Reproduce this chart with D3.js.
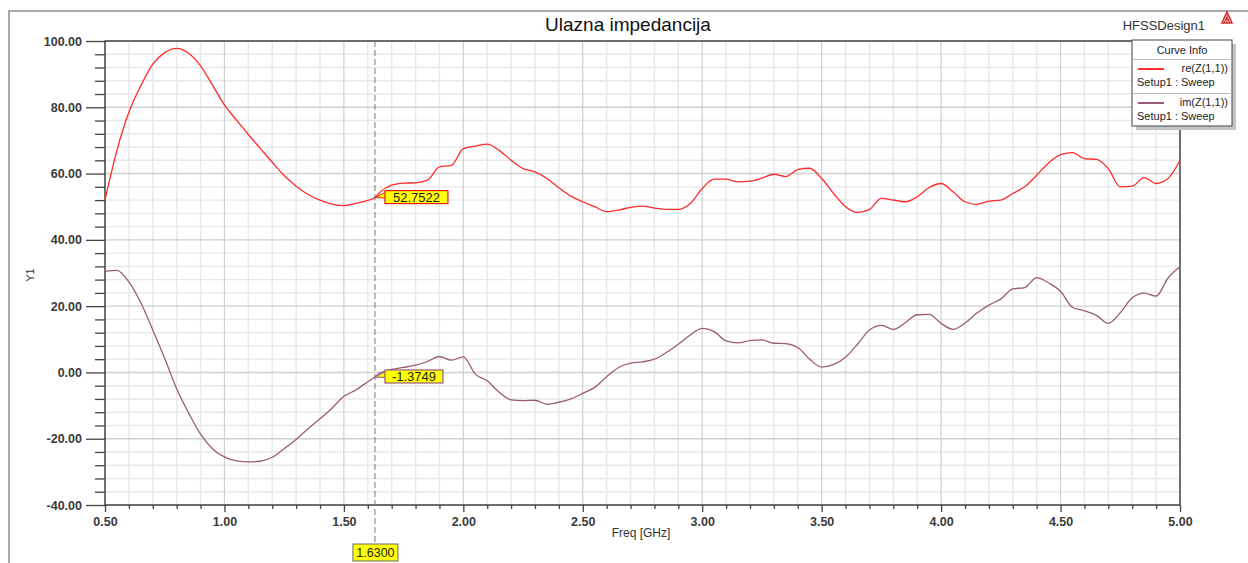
<!DOCTYPE html>
<html>
<head>
<meta charset="utf-8">
<script src="https://cdn.jsdelivr.net/npm/d3@7"></script>
<style>
  html, body { margin: 0; padding: 0; background: #ffffff; }
  svg { display: block; font-family: "Liberation Sans", Arial, sans-serif; }
</style>
</head>
<body>
<svg id="chart" width="1248" height="563"></svg>
<script>
// Sweep frequencies [GHz]
const freq = [0.50,0.55,0.60,0.65,0.70,0.75,0.80,0.85,0.90,0.95,1.00,1.05,1.10,1.15,1.20,1.25,1.30,1.35,1.40,1.45,1.50,1.55,1.60,1.63,1.65,1.70,1.75,1.80,1.85,1.90,1.95,2.00,2.05,2.10,2.15,2.20,2.25,2.30,2.35,2.40,2.45,2.50,2.55,2.60,2.65,2.70,2.75,2.80,2.85,2.90,2.95,3.00,3.05,3.10,3.15,3.20,3.25,3.30,3.35,3.40,3.45,3.50,3.55,3.60,3.65,3.70,3.75,3.80,3.85,3.90,3.95,4.00,4.05,4.10,4.15,4.20,4.25,4.30,4.35,4.40,4.45,4.50,4.55,4.60,4.65,4.70,4.75,4.80,4.85,4.90,4.95,5.00];

// re(Z(1,1)) [Ohm]
const reZ = [52,67,78.5,86.5,93,96.5,97.8,96.3,92.5,86.7,80.7,76.2,71.8,67.6,63.4,59.4,56.2,53.7,52,50.8,50.3,51,51.9,52.7522,54.3,56.5,57.1,57.2,58,62,62.5,67.5,68.3,68.9,67,64,61.5,60.5,58.5,55.7,53.2,51.5,50,48.5,49,49.8,50.2,49.6,49.2,49.2,51,55.5,58.3,58.3,57.5,57.7,58.6,59.8,59.1,61.2,61.6,58.5,54,50,48.3,49.2,52.5,52,51.5,53,55.8,57,54.5,51.5,50.7,51.7,52,54,56,59.5,63.2,65.7,66.3,64.5,64.3,61.5,56,56.2,58.8,57,58.5,64];

// im(Z(1,1)) [Ohm]
const imZ = [30.5,30.8,27.3,21,12.8,4.2,-4.9,-12.2,-18.6,-23,-25.5,-26.7,-27,-26.8,-25.6,-23,-20.2,-17,-14,-10.8,-7.2,-5.3,-2.8,-1.3749,-0.2,0.9,1.5,2.2,3.3,4.8,3.7,4.7,-0.5,-2.5,-6,-8.3,-8.5,-8.4,-9.6,-9,-8,-6.3,-4.5,-1.3,1.5,2.8,3.2,4,6,8.5,11.3,13.3,12.3,9.5,8.9,9.6,9.8,8.8,8.7,7.5,4,1.6,2.4,4.6,8.5,12.8,14.2,13,15,17.4,17.5,14.8,13,14.9,17.9,20.3,22.2,25.2,25.6,28.6,27,24.5,19.6,18.6,17.2,14.8,18,22.5,23.9,23,28.5,32];

// Axis ticks
const xMajor = [0.5,1.0,1.5,2.0,2.5,3.0,3.5,4.0,4.5,5.0];
const xMinor = [0.6,0.7,0.8,0.9,1.1,1.2,1.3,1.4,1.6,1.7,1.8,1.9,2.1,2.2,2.3,2.4,2.6,2.7,2.8,2.9,3.1,3.2,3.3,3.4,3.6,3.7,3.8,3.9,4.1,4.2,4.3,4.4,4.6,4.7,4.8,4.9];
const yMajor = [-40,-20,0,20,40,60,80,100];
const yMinor = [-36,-32,-28,-24,-16,-12,-8,-4,4,8,12,16,24,28,32,36,44,48,52,56,64,68,72,76,84,88,92,96];

// Marker
const markerFreq = 1.63;
const markerRe = 52.7522;
const markerIm = -1.3749;

const colors = { re: "#ff2a2a", im: "#9a5a7c" };

// Fixed-decimal labels with a plain hyphen for negatives
const fmt = n => (v => d3.format("." + n + "f")(v).replace("\u2212", "-"));

const svg = d3.select("#chart");
const L = 105, R = 1180, T = 41, B = 505;

const x = d3.scaleLinear().domain([0.5, 5]).range([L, R]);
const y = d3.scaleLinear().domain([-40, 100]).range([B, T]);

// Outer frame (continues past the window's right and bottom edges)
svg.append("rect").attr("x", 9).attr("y", 11).attr("width", 1260).attr("height", 570)
  .attr("fill", "#fff").attr("stroke", "#a8a8a8").attr("stroke-width", 2);

// Title
svg.append("text").attr("x", 628).attr("y", 31).attr("text-anchor", "middle")
  .attr("font-size", 19).attr("fill", "#111").text("Ulazna impedancija");
svg.append("text").attr("x", 1205).attr("y", 30).attr("text-anchor", "end")
  .attr("font-size", 13).attr("fill", "#333").text("HFSSDesign1");
// small logo
const logo = svg.append("g").attr("transform", "translate(1227,18)");
logo.append("path").attr("d", "M0,-6 L5,5 L-5,5 Z").attr("fill", "none").attr("stroke", "#d03030").attr("stroke-width", 1.6);
logo.append("path").attr("d", "M0,-3 L0,5 M-3,5 L0,-1 L3,5").attr("stroke", "#d03030").attr("stroke-width", 1.2).attr("fill", "none");

// Grid: minor then major
const grid = svg.append("g");
grid.selectAll(".gxm").data(xMinor).join("line")
  .attr("x1", d => x(d)).attr("x2", d => x(d)).attr("y1", T).attr("y2", B)
  .attr("stroke", "#e8e8e8").attr("stroke-width", 1.4);
grid.selectAll(".gym").data(yMinor).join("line")
  .attr("x1", L).attr("x2", R).attr("y1", d => y(d)).attr("y2", d => y(d))
  .attr("stroke", "#e8e8e8").attr("stroke-width", 1.4);
grid.selectAll(".gxM").data(xMajor).join("line")
  .attr("x1", d => x(d)).attr("x2", d => x(d)).attr("y1", T).attr("y2", B)
  .attr("stroke", "#cfcfcf").attr("stroke-width", 1.2);
grid.selectAll(".gyM").data(yMajor).join("line")
  .attr("x1", L).attr("x2", R).attr("y1", d => y(d)).attr("y2", d => y(d))
  .attr("stroke", "#cfcfcf").attr("stroke-width", 1.4);

// Axes
const axisColor = "#444";
const yAxisMaj = svg.append("g").attr("transform", `translate(${L},0)`)
  .call(d3.axisLeft(y).tickValues(yMajor).tickSize(19).tickPadding(4).tickFormat(fmt(2)));
const yAxisMin = svg.append("g").attr("transform", `translate(${L},0)`)
  .call(d3.axisLeft(y).tickValues(yMinor).tickSize(10).tickFormat(""));
const xAxisMaj = svg.append("g").attr("transform", `translate(0,${B})`)
  .call(d3.axisBottom(x).tickValues(xMajor).tickSize(7).tickPadding(5).tickFormat(fmt(2)));
const xAxisMin = svg.append("g").attr("transform", `translate(0,${B})`)
  .call(d3.axisBottom(x).tickValues(xMinor).tickSize(4).tickFormat(""));
[yAxisMaj, yAxisMin, xAxisMaj, xAxisMin].forEach(g => {
  g.select(".domain").remove();
  g.selectAll(".tick line").attr("stroke", axisColor).attr("stroke-width", 1.3);
  g.selectAll(".tick text").attr("fill", "#3a3a3a").attr("font-size", 12.5)
    .attr("font-weight", "bold").attr("font-family", "Liberation Sans, Arial, sans-serif");
});

// Plot border
svg.append("rect").attr("x", L).attr("y", T).attr("width", R - L).attr("height", B - T)
  .attr("fill", "none").attr("stroke", "#333").attr("stroke-width", 1.3);

// Axis titles
svg.append("text").attr("transform", `translate(34,${(T + B) / 2 + 2}) rotate(-90)`)
  .attr("text-anchor", "middle").attr("font-size", 11).attr("fill", "#333").text("Y1");
svg.append("text").attr("x", 641).attr("y", 537).attr("text-anchor", "middle")
  .attr("font-size", 12).attr("fill", "#333").text("Freq [GHz]");

// Curves
const line = (vals) => d3.line()
  .x((d, i) => x(freq[i])).y(d => y(d))
  .curve(d3.curveMonotoneX)(vals);
svg.append("path").attr("d", line(reZ)).attr("fill", "none")
  .attr("stroke", colors.re).attr("stroke-width", 1.3);
svg.append("path").attr("d", line(imZ)).attr("fill", "none")
  .attr("stroke", colors.im).attr("stroke-width", 1.3);

// Marker line
const mx = x(markerFreq);
svg.append("line").attr("x1", mx).attr("x2", mx).attr("y1", T).attr("y2", 544)
  .attr("stroke", "#777").attr("stroke-width", 1).attr("stroke-dasharray", "6,3");

// Marker callouts
function callout(val, stroke, w) {
  const px = mx, py = y(val);
  const bx = px + 10, by = py - 7, bh = 13;
  const g = svg.append("g");
  g.append("path")
    .attr("d", `M${px},${py} L${bx + 1},${by + 1.5} L${bx + 1},${by + 7.5} Z`)
    .attr("fill", "#ffff00").attr("stroke", stroke).attr("stroke-width", 1);
  g.append("rect").attr("x", bx).attr("y", by).attr("width", w).attr("height", bh)
    .attr("fill", "#ffff00").attr("stroke", stroke).attr("stroke-width", 1.2);
  g.append("text").attr("x", bx + w / 2).attr("y", by + bh - 2)
    .attr("text-anchor", "middle").attr("font-size", 13).attr("fill", "#222")
    .text(fmt(4)(val));
}
callout(markerRe, "#e02020", 63);
callout(markerIm, "#9a5a7c", 58);

// Bottom marker label
const fbW = 45;
svg.append("rect").attr("x", mx - 22).attr("y", 544).attr("width", fbW).attr("height", 17)
  .attr("fill", "#ffff00").attr("stroke", "#666").attr("stroke-width", 1);
svg.append("text").attr("x", mx + 0.5).attr("y", 557).attr("text-anchor", "middle")
  .attr("font-size", 12.5).attr("fill", "#222").text(fmt(4)(markerFreq));

// Legend
const lg = svg.append("g").attr("transform", "translate(1132,40)");
lg.append("rect").attr("x", 4).attr("y", 4).attr("width", 100).attr("height", 86).attr("fill", "#c4c4c4");
lg.append("rect").attr("x", 0).attr("y", 0).attr("width", 100).attr("height", 86)
  .attr("fill", "#fff").attr("stroke", "#444").attr("stroke-width", 1);
lg.append("text").attr("x", 50).attr("y", 14).attr("text-anchor", "middle")
  .attr("font-size", 11).attr("fill", "#222").text("Curve Info");
lg.append("line").attr("x1", 0).attr("x2", 100).attr("y1", 19.5).attr("y2", 19.5).attr("stroke", "#bbb");
lg.append("line").attr("x1", 0).attr("x2", 100).attr("y1", 53.5).attr("y2", 53.5).attr("stroke", "#bbb");
const entries = [
  { name: "re(Z(1,1))", color: colors.re, y0: 20 },
  { name: "im(Z(1,1))", color: colors.im, y0: 54 }
];
entries.forEach(e => {
  lg.append("line").attr("x1", 6).attr("x2", 32).attr("y1", e.y0 + 9).attr("y2", e.y0 + 9)
    .attr("stroke", e.color).attr("stroke-width", 2);
  lg.append("text").attr("x", 96).attr("y", e.y0 + 12).attr("text-anchor", "end")
    .attr("font-size", 11).attr("fill", "#222").text(e.name);
  lg.append("text").attr("x", 5).attr("y", e.y0 + 26)
    .attr("font-size", 11).attr("fill", "#222").text("Setup1 : Sweep");
});
</script>
</body>
</html>
